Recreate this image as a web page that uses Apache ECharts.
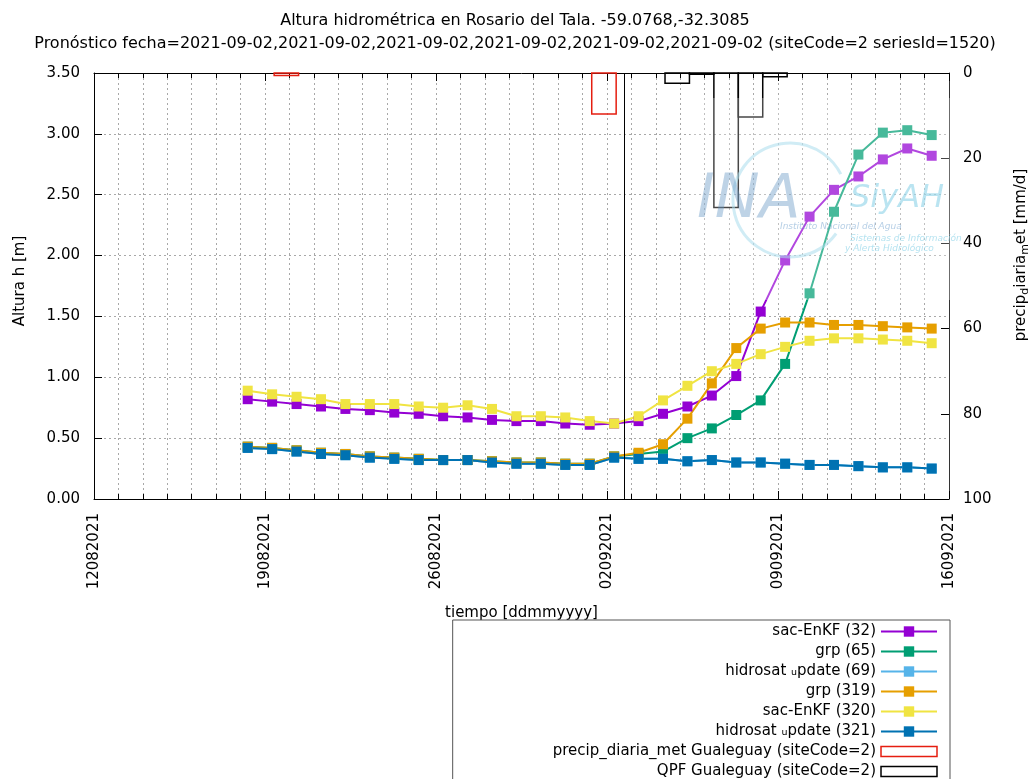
<!DOCTYPE html>
<html>
<head>
<meta charset="utf-8">
<title>Altura hidrométrica en Rosario del Tala</title>
<script src="https://cdn.jsdelivr.net/npm/echarts@6/dist/echarts.min.js"></script>
<style>
  html, body { margin: 0; padding: 0; background: #fff; }
  #chart { width: 1030px; height: 779px; }
</style>
</head>
<body>
<div id="chart"></div>
<script>
const FUENTE = 'DejaVu Sans'
const DIA = 24 * 3600 * 1000

// fechas de las simulaciones (hora local 07:00)
const fechas = [
  '2021-08-18', '2021-08-19', '2021-08-20', '2021-08-21', '2021-08-22', '2021-08-23', '2021-08-24',
  '2021-08-25', '2021-08-26', '2021-08-27', '2021-08-28', '2021-08-29', '2021-08-30', '2021-08-31',
  '2021-09-01', '2021-09-02', '2021-09-03', '2021-09-04', '2021-09-05', '2021-09-06', '2021-09-07',
  '2021-09-08', '2021-09-09', '2021-09-10', '2021-09-11', '2021-09-12', '2021-09-13', '2021-09-14',
  '2021-09-15'
]
const horaSim = 7

// altura h [m] por modelo
const sacEnKF32 = [0.82, 0.80, 0.78, 0.76, 0.74, 0.73, 0.71, 0.70, 0.68, 0.67, 0.65, 0.64, 0.64, 0.62, 0.61, 0.62,
  0.64, 0.70, 0.76, 0.85, 1.01, 1.54, 1.96, 2.32, 2.54, 2.65, 2.79, 2.88, 2.82]
const grp65 = [0.43, 0.42, 0.40, 0.38, 0.37, 0.35, 0.34, 0.33, 0.32, 0.32, 0.31, 0.30, 0.30, 0.29, 0.29, 0.35,
  0.37, 0.39, 0.50, 0.58, 0.69, 0.81, 1.11, 1.69, 2.36, 2.83, 3.01, 3.03, 2.99]
const hidrosat69 = [0.42, 0.41, 0.39, 0.37, 0.36, 0.34, 0.33, 0.32, 0.32, 0.32, 0.30, 0.29, 0.29, 0.28, 0.28, 0.34,
  0.33, 0.33, 0.31, 0.32, 0.30, 0.30, 0.29, 0.28, 0.28, 0.27, 0.26, 0.26, 0.25]
const grp319 = [0.43, 0.42, 0.40, 0.38, 0.37, 0.35, 0.34, 0.33, 0.32, 0.32, 0.31, 0.30, 0.30, 0.29, 0.29, 0.35,
  0.38, 0.45, 0.66, 0.95, 1.24, 1.40, 1.45, 1.45, 1.43, 1.43, 1.42, 1.41, 1.40]
const sacEnKF320 = [0.89, 0.86, 0.84, 0.82, 0.78, 0.78, 0.78, 0.76, 0.75, 0.77, 0.74, 0.68, 0.68, 0.67, 0.64, 0.62,
  0.68, 0.81, 0.93, 1.05, 1.11, 1.19, 1.25, 1.30, 1.32, 1.32, 1.31, 1.30, 1.28]
const hidrosat321 = [0.42, 0.41, 0.39, 0.37, 0.36, 0.34, 0.33, 0.32, 0.32, 0.32, 0.30, 0.29, 0.29, 0.28, 0.28, 0.34,
  0.33, 0.33, 0.31, 0.32, 0.30, 0.30, 0.29, 0.28, 0.28, 0.27, 0.26, 0.26, 0.25]

// precipitación diaria [mm/d] (09:00 a 09:00)
const horaPrecip = 9
const precipMetFechas = ['2021-08-19', '2021-09-01']
const precipMetValores = [0.6, 9.6]
const qpfFechas = ['2021-09-04', '2021-09-05', '2021-09-06', '2021-09-07', '2021-09-08']
const qpfValores = [2.4, 0.3, 31.6, 10.3, 0.9]

const fechaPronostico = '2021-09-02'
const horaPronostico = 17

const xInicio = '2021-08-12'
const xFin = '2021-09-16'

function ts(fecha, hora) {
  const p = fecha.split('-').map(Number)
  return Date.UTC(p[0], p[1] - 1, p[2]) + (hora || 0) * 3600 * 1000
}
function dosDig(n) { return (n < 10 ? '0' : '') + n }
function ddmmyyyy(v) {
  const d = new Date(v)
  return dosDig(d.getUTCDate()) + dosDig(d.getUTCMonth() + 1) + d.getUTCFullYear()
}

function serieLinea(nombre, valores, color) {
  return {
    name: nombre,
    type: 'line',
    data: fechas.map((f, i) => [ts(f, horaSim), valores[i]]),
    symbol: 'rect',
    symbolSize: 10,
    showSymbol: true,
    lineStyle: { width: 2, color: color },
    itemStyle: { color: color },
    emphasis: { disabled: true }
  }
}

function barras(nombre, fechasB, valoresB, color) {
  return {
    name: nombre,
    type: 'custom',
    xAxisIndex: 0,
    yAxisIndex: 1,
    itemStyle: { color: color },
    encode: { x: [0, 1], y: 2 },
    data: fechasB.map((f, i) => [ts(f, horaPrecip), ts(f, horaPrecip) + DIA, valoresB[i]]),
    renderItem(params, api) {
      const p0 = api.coord([api.value(0), 0])
      const p1 = api.coord([api.value(1), api.value(2)])
      return {
        type: 'rect',
        shape: { x: p0[0], y: p0[1], width: p1[0] - p0[0], height: p1[1] - p0[1] },
        style: { fill: 'none', stroke: color, lineWidth: 1.5 }
      }
    }
  }
}

const texto = { fontFamily: FUENTE, fontSize: 15, color: '#000' }
const rejilla = { color: '#a8a8a8', width: 1, type: [2, 3] }

const series = [
  serieLinea('sac-EnKF (32)', sacEnKF32, '#9400d3'),
  serieLinea('grp (65)', grp65, '#009e73'),
  serieLinea('hidrosat ᵤpdate (69)', hidrosat69, '#56b4e9'),
  serieLinea('grp (319)', grp319, '#e69f00'),
  serieLinea('sac-EnKF (320)', sacEnKF320, '#f0e442'),
  serieLinea('hidrosat ᵤpdate (321)', hidrosat321, '#0072b2'),
  barras('precip_diaria_met Gualeguay (siteCode=2)', precipMetFechas, precipMetValores, '#e51e10'),
  barras('QPF Gualeguay (siteCode=2)', qpfFechas, qpfValores, '#000')
]
// línea vertical de la fecha de pronóstico
series[0].markLine = {
  silent: true,
  symbol: 'none',
  label: { show: false },
  lineStyle: { color: '#000', width: 1, type: 'solid' },
  data: [{ xAxis: ts(fechaPronostico, horaPronostico) }]
}

const iconoCaja = 'path://M0,0M56,13M0,1.5H56V11.5H0Z'

const option = {
  animation: false,
  backgroundColor: '#fff',
  title: [
    {
      text: 'Altura hidrométrica en Rosario del Tala. -59.0768,-32.3085',
      left: 'center', top: 8,
      textStyle: { fontFamily: FUENTE, fontSize: 16, fontWeight: 'normal', color: '#000' }
    },
    {
      text: 'Pronóstico fecha=2021-09-02,2021-09-02,2021-09-02,2021-09-02,2021-09-02,2021-09-02 (siteCode=2 seriesId=1520)',
      left: 'center', top: 31,
      textStyle: { fontFamily: FUENTE, fontSize: 16, fontWeight: 'normal', color: '#000' }
    }
  ],
  grid: { left: 94, right: 81, top: 73, bottom: 280, containLabel: false, outerBoundsMode: 'none' },
  legend: {
    orient: 'vertical',
    align: 'right',
    right: 80,
    top: 620,
    height: 220,
    padding: [4, 12, 10, 100],
    borderColor: '#555',
    borderWidth: 1,
    itemWidth: 56,
    itemHeight: 13,
    itemGap: 5,
    selectedMode: false,
    textStyle: Object.assign({}, texto, { rich: { r: { width: 380, align: 'right', fontSize: 15, fontFamily: FUENTE } } }),
    formatter: name => '{r|' + name + '}',
    data: [
      'sac-EnKF (32)', 'grp (65)', 'hidrosat ᵤpdate (69)', 'grp (319)', 'sac-EnKF (320)', 'hidrosat ᵤpdate (321)',
      { name: 'precip_diaria_met Gualeguay (siteCode=2)', icon: iconoCaja,
        itemStyle: { color: '#fff', borderColor: '#e51e10', borderWidth: 1.5 } },
      { name: 'QPF Gualeguay (siteCode=2)', icon: iconoCaja,
        itemStyle: { color: '#fff', borderColor: '#000', borderWidth: 1.5 } }
    ]
  },
  xAxis: [
    {
      type: 'value',
      min: ts(xInicio), max: ts(xFin), interval: 7 * DIA,
      axisLine: { show: true, onZero: false, lineStyle: { color: '#000', width: 1 } },
      axisTick: { show: true, inside: true, length: 8, lineStyle: { color: '#000' } },
      minorTick: { show: true, splitNumber: 7, length: 5, lineStyle: { color: '#000' } },
      splitLine: { show: true, lineStyle: rejilla },
      minorSplitLine: { show: true, lineStyle: rejilla },
      axisLabel: Object.assign({}, texto, { rotate: 90, margin: 14, formatter: ddmmyyyy }),
      name: 'tiempo [ddmmyyyy]',
      nameLocation: 'middle',
      nameGap: 107,
      nameTextStyle: texto
    },
    {
      type: 'value',
      position: 'top',
      min: ts(xInicio), max: ts(xFin), interval: 7 * DIA,
      axisLine: { show: true, onZero: false, lineStyle: { color: '#000', width: 1 } },
      axisTick: { show: true, inside: true, length: 8, lineStyle: { color: '#000' } },
      minorTick: { show: true, splitNumber: 7, length: 5, lineStyle: { color: '#000' } },
      splitLine: { show: false },
      axisLabel: { show: false }
    }
  ],
  yAxis: [
    {
      type: 'value',
      min: 0, max: 3.5, interval: 0.5,
      position: 'left',
      axisLine: { show: true, onZero: false, lineStyle: { color: '#000', width: 1 } },
      axisTick: { show: true, inside: true, length: 8, lineStyle: { color: '#000' } },
      splitLine: { show: true, lineStyle: rejilla },
      axisLabel: Object.assign({}, texto, { margin: 14, formatter: v => v.toFixed(2) }),
      name: 'Altura h [m]',
      nameLocation: 'middle',
      nameGap: 66,
      nameTextStyle: Object.assign({}, texto, { padding: [0, 0, 0, 10] })
    },
    {
      type: 'value',
      min: 0, max: 100, interval: 20,
      inverse: true,
      position: 'right',
      axisLine: { show: true, onZero: false, lineStyle: { color: '#333', width: 1 } },
      axisTick: { show: true, inside: true, length: 8, lineStyle: { color: '#000' } },
      splitLine: { show: false },
      axisLabel: Object.assign({}, texto, { margin: 14 }),
      name: '{a|precip}{s|d}{a|iaria}{s|m}{a|et [mm/d]}',
      nameLocation: 'middle',
      nameGap: 63,
      nameTextStyle: Object.assign({}, texto, {
        padding: [0, 0, 0, 62],
        rich: {
          a: { fontSize: 15, fontFamily: FUENTE, color: '#000' },
          s: { fontSize: 11, fontFamily: FUENTE, color: '#000', padding: [8, 0, 0, 0] }
        }
      })
    }
  ],
  // marca de agua INA - SiyAH
  graphic: [
    { type: 'rect', z: 100, silent: true, shape: { x: 690, y: 98, width: 265, height: 202 },
      style: { fill: 'rgba(255,255,255,0.28)' } },
    { type: 'arc', z: 101, silent: true, shape: { cx: 790, cy: 200, r: 57, startAngle: Math.PI * 0.2, endAngle: Math.PI * 1.85, clockwise: true },
      style: { fill: 'none', stroke: 'rgba(170,220,236,0.55)', lineWidth: 3 } },
    { type: 'text', z: 101, silent: true, x: 697, y: 171,
      style: { text: 'INA', font: 'italic 60px DejaVu Sans', fill: 'rgba(100,150,195,0.42)' } },
    { type: 'text', z: 101, silent: true, x: 850, y: 183,
      style: { text: 'SiyAH', font: 'italic 32px DejaVu Sans', fill: 'rgba(140,210,232,0.6)' } },
    { type: 'text', z: 101, silent: true, x: 780, y: 222,
      style: { text: 'Instituto Nacional del Agua', font: 'italic 9px DejaVu Sans', fill: 'rgba(110,160,205,0.5)' } },
    { type: 'text', z: 101, silent: true, x: 850, y: 234,
      style: { text: 'Sistemas de Información', font: 'italic 9px DejaVu Sans', fill: 'rgba(140,210,232,0.65)' } },
    { type: 'text', z: 101, silent: true, x: 845, y: 244,
      style: { text: 'y Alerta Hidrológico', font: 'italic 9px DejaVu Sans', fill: 'rgba(140,210,232,0.65)' } }
  ],
  series: series
}

const chart = echarts.init(document.getElementById('chart'))
chart.setOption(option)
</script>
</body>
</html>
